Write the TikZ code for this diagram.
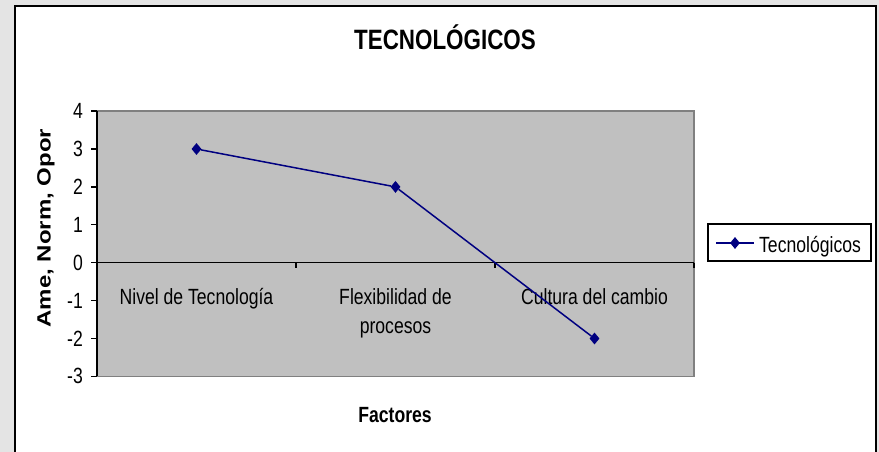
\documentclass[tikz,border=0pt]{standalone}
\usepackage{fontspec}
\setmainfont{Liberation Sans}
\usetikzlibrary{shapes.geometric}
\definecolor{bggray}{RGB}{228,228,228}
\definecolor{plotgray}{RGB}{192,192,192}
\definecolor{edgegray}{RGB}{128,128,128}
\definecolor{navy}{RGB}{0,0,128}

\begin{document}
\begin{tikzpicture}[x=1pt, y=1pt,
        txt/.style={font=\fontsize{22}{29}\selectfont, xscale=0.8, inner sep=0},
        boldtxt/.style={txt, font=\fontsize{22}{29}\selectfont\bfseries},
        ttl/.style={txt, font=\fontsize{28}{34}\selectfont\bfseries},
        pnt/.style={diamond, fill=navy, inner sep=0, minimum width=10, minimum height=12},
        axis/.style={line width=1.3}]
                \useasboundingbox (0,0) rectangle (879,452);
                \fill[bggray] (0,0) rectangle (879,452);
                \filldraw[fill=white, line width=2] (15,-5) rectangle (876,446);

                \node[ttl, anchor=base] (title) at (445,402) {TECNOLÓGICOS};
                \node[boldtxt, anchor=base] (xtitle) at (395,29) {Factores};
                \node[font=\fontsize{24}{28}\selectfont\bfseries, rotate=90, yscale=0.8, inner sep=0] (ytitle) at (46,224) {Ame, Norm, Opor};

                \begin{scope}[shift={(97,189.3)}, y=37.9pt]
                    \filldraw[fill=plotgray, draw=edgegray, line width=1.5] (0,-3) rectangle (597,4);
                    \draw[axis] (0,0) -- (597,0);
                    \draw[axis] (0,-3) -- (0,4);

                    \foreach \v [count=\i] in {-3,...,4}
                        {
                            \draw[axis] (-6,\v) -- (0,\v);
                            \node[txt, anchor=east] (ylab\i) at (-14,\v) {\v};
                        }
                    \foreach \u in {199, 398, 597}
                        \draw[axis] (\u,0) -- (\u,-0.13);

                    \node[txt, anchor=north] (cat1) at (99.5,-0.667) {Nivel de Tecnología};
                    \node[txt, anchor=north, align=center] (cat2) at (298.5,-0.667) {Flexibilidad de\\procesos};
                    \node[txt, anchor=north] (cat3) at (497.5,-0.667) {Cultura del cambio};

                    \node[pnt] (p1) at (99.5,3) {};
                    \node[pnt] (p2) at (298.5,2) {};
                    \node[pnt] (p3) at (497.5,-2) {};
                    \draw[navy, line width=1.5] (p1) -- (p2) -- (p3);
                \end{scope}

                % legend
                \node[draw, line width=1.2, minimum width=163, minimum height=37, inner sep=0] (leg) at (789.5,209.5) {};
                \coordinate (la) at (716,209);
                \coordinate (lb) at (754,209);
                \draw[navy, line width=1.5] (la) -- (lb);
                \node[pnt] (lp) at (735,209) {};
                \node[txt, anchor=base west] (ltxt) at (759,199) {Tecnológicos};
\end{tikzpicture}
\end{document}
